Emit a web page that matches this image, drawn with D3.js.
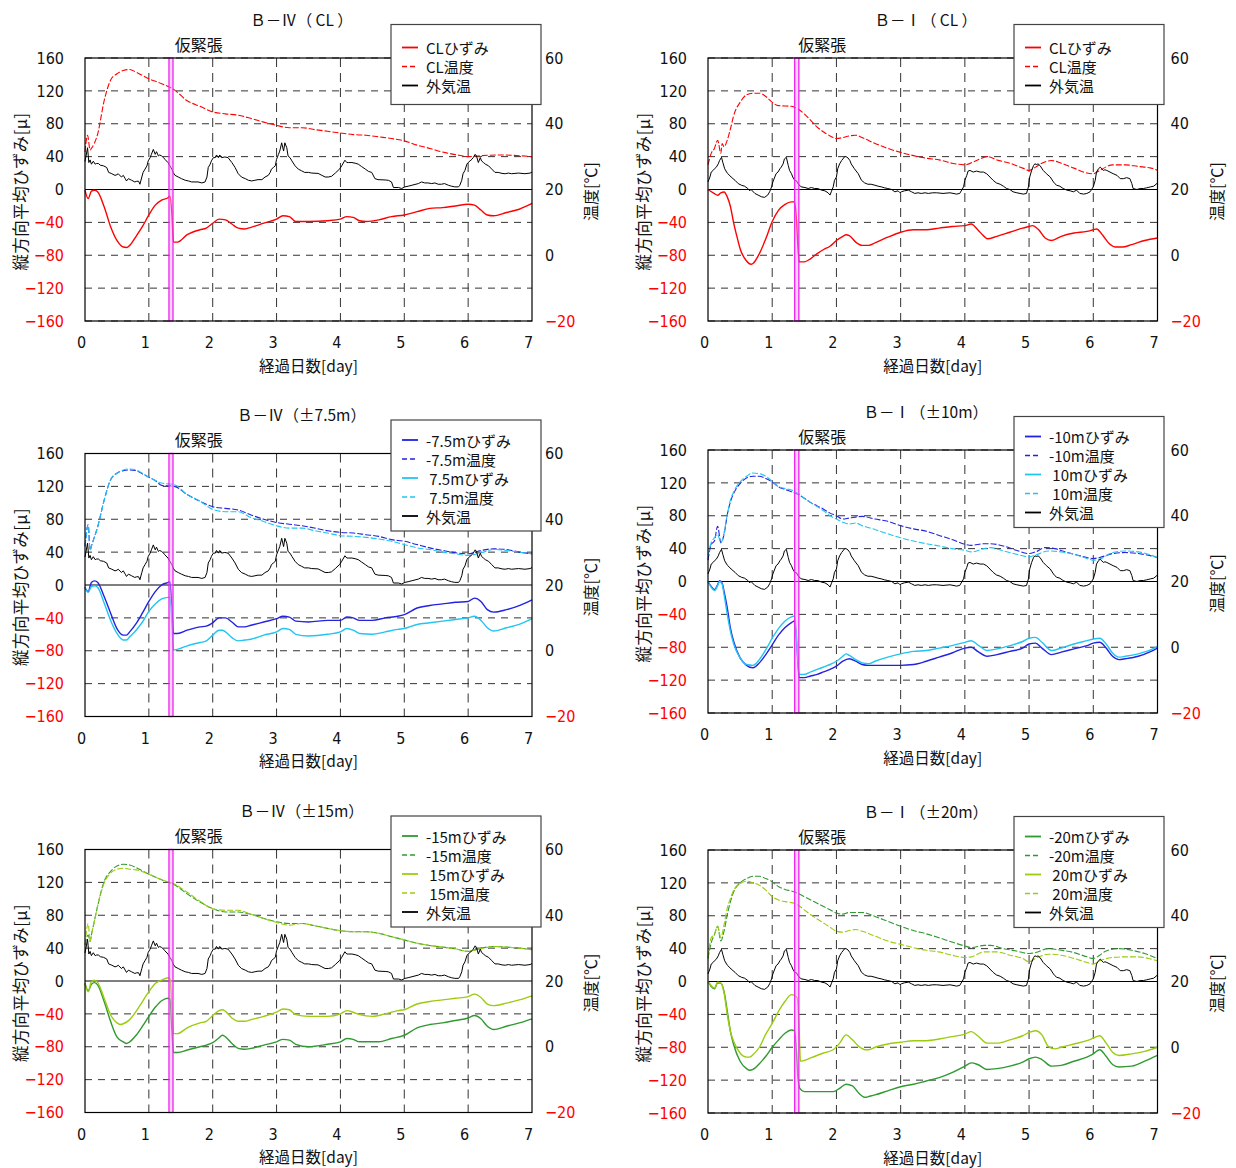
<!DOCTYPE html>
<html>
<head>
<meta charset="utf-8">
<script src="https://cdn.jsdelivr.net/npm/d3@7"></script>
<style>
  body { margin: 0; background: #fff; }
  svg { display: block; }
</style>
</head>
<body>
<svg id="chart" width="1236" height="1168"></svg>
<script>
// ---------- axis ticks ----------
const DAY_TICKS = [0, 1, 2, 3, 4, 5, 6, 7];
const STRAIN_TICKS = [-160, -120, -80, -40, 0, 40, 80, 120, 160];
const TEMP_TICKS = [-20, 0, 20, 40, 60];

// ---------- outdoor air temperature [°C] (day, value) ----------
const airTempB4 = [[0,28.5],[0.04,32.7],[0.06,28.2],[0.08,29.0],[0.10,27.7],[0.13,28.6],[0.16,27.7],[0.18,27.9],[0.21,27.9],[0.24,27.4],[0.29,27.2],[0.34,26.7],[0.37,25.2],[0.42,24.8],[0.47,24.3],[0.50,24.5],[0.52,24.8],[0.57,23.8],[0.60,24.3],[0.63,23.3],[0.65,22.6],[0.68,23.3],[0.73,22.8],[0.78,22.3],[0.81,22.5],[0.84,22.5],[0.86,21.6],[0.89,23.8],[0.91,25.2],[0.94,26.2],[0.97,27.2],[0.99,28.7],[1.02,29.7],[1.04,30.7],[1.07,32.2],[1.10,30.7],[1.12,31.5],[1.15,30.2],[1.17,30.5],[1.20,30.2],[1.23,29.7],[1.25,29.2],[1.30,28.2],[1.33,27.2],[1.36,26.2],[1.38,25.2],[1.41,24.3],[1.46,23.8],[1.51,23.3],[1.57,22.8],[1.62,22.6],[1.67,22.3],[1.77,22.3],[1.83,22.0],[1.88,22.3],[1.91,23.8],[1.93,26.7],[1.96,27.7],[1.98,28.7],[2.01,29.7],[2.04,29.7],[2.06,30.5],[2.09,29.7],[2.11,30.5],[2.14,29.7],[2.19,29.9],[2.24,29.7],[2.30,28.2],[2.35,26.7],[2.40,24.8],[2.45,23.8],[2.51,23.3],[2.56,22.8],[2.61,22.6],[2.66,22.8],[2.71,23.0],[2.77,23.0],[2.82,23.8],[2.87,24.3],[2.90,25.2],[2.92,26.2],[2.95,26.7],[2.98,27.2],[3.00,29.2],[3.03,30.7],[3.05,31.7],[3.08,34.2],[3.11,31.7],[3.13,34.2],[3.16,32.7],[3.18,30.2],[3.21,29.7],[3.24,28.7],[3.29,27.2],[3.34,26.2],[3.39,25.7],[3.44,25.2],[3.50,25.2],[3.55,25.0],[3.65,24.9],[3.71,24.3],[3.76,23.8],[3.81,23.8],[3.86,24.0],[3.92,25.0],[3.99,26.3],[4.02,27.2],[4.07,28.9],[4.10,28.2],[4.13,28.2],[4.18,28.2],[4.23,28.0],[4.28,27.7],[4.33,27.0],[4.39,26.2],[4.44,25.5],[4.49,25.2],[4.54,23.3],[4.59,23.0],[4.70,22.9],[4.75,22.8],[4.80,22.3],[4.83,20.6],[4.91,20.6],[4.96,20.3],[5.01,20.8],[5.06,21.0],[5.12,21.3],[5.22,21.8],[5.27,22.3],[5.32,22.0],[5.37,22.0],[5.43,21.8],[5.48,22.0],[5.53,21.6],[5.58,21.6],[5.63,21.8],[5.69,21.3],[5.74,21.0],[5.79,20.8],[5.85,20.8],[5.87,21.3],[5.90,22.8],[5.92,24.8],[5.95,25.8],[5.98,27.7],[6.00,28.2],[6.03,28.7],[6.06,29.2],[6.08,29.7],[6.11,30.7],[6.13,30.2],[6.16,28.2],[6.19,29.7],[6.21,28.7],[6.24,28.2],[6.27,27.7],[6.32,27.2],[6.37,26.2],[6.42,25.2],[6.47,25.2],[6.53,24.9],[6.58,24.8],[6.63,25.0],[6.68,24.8],[6.79,25.0],[6.89,24.8],[6.97,25.0],[7.0,25.3]];

const airTempB1 = [[0,22.3],[0.03,23.8],[0.05,25.3],[0.08,25.8],[0.10,26.3],[0.13,26.8],[0.16,27.8],[0.18,28.8],[0.21,29.8],[0.23,28.3],[0.26,26.3],[0.29,25.3],[0.31,24.8],[0.36,23.8],[0.42,22.8],[0.47,21.8],[0.52,21.3],[0.57,21.0],[0.62,20.3],[0.65,19.6],[0.67,20.0],[0.73,18.8],[0.78,18.3],[0.83,17.8],[0.88,17.6],[0.93,18.3],[0.96,19.3],[0.99,20.8],[1.01,22.3],[1.04,23.8],[1.06,24.8],[1.09,25.3],[1.12,26.3],[1.14,26.8],[1.17,27.8],[1.19,29.3],[1.22,29.8],[1.25,27.3],[1.27,25.8],[1.30,24.8],[1.32,23.8],[1.35,22.8],[1.38,22.6],[1.40,21.8],[1.45,20.8],[1.51,20.6],[1.56,20.3],[1.61,20.6],[1.66,20.3],[1.71,20.3],[1.77,19.8],[1.82,19.6],[1.87,19.0],[1.90,18.3],[1.92,19.3],[1.95,20.8],[1.97,22.8],[2.00,23.8],[2.02,26.3],[2.05,27.8],[2.08,28.8],[2.13,30.0],[2.15,30.0],[2.18,29.6],[2.21,28.8],[2.23,27.8],[2.28,26.3],[2.34,24.8],[2.39,22.8],[2.44,22.0],[2.49,21.6],[2.54,21.6],[2.60,21.3],[2.65,21.0],[2.70,20.8],[2.75,20.5],[2.80,20.3],[2.86,20.0],[2.91,19.3],[2.96,19.6],[2.99,19.0],[3.01,19.3],[3.06,19.6],[3.12,19.8],[3.17,19.3],[3.22,18.8],[3.27,19.0],[3.32,18.8],[3.38,19.0],[3.43,18.8],[3.50,19.0],[3.56,19.0],[3.66,18.8],[3.77,19.0],[3.87,18.6],[3.92,18.8],[3.98,20.8],[4.00,22.8],[4.03,24.3],[4.05,25.6],[4.08,25.8],[4.13,25.3],[4.18,25.6],[4.24,25.3],[4.29,25.3],[4.34,24.8],[4.39,23.8],[4.44,22.8],[4.49,22.0],[4.55,21.6],[4.60,21.0],[4.65,20.3],[4.70,20.0],[4.75,19.3],[4.81,19.0],[4.86,18.8],[4.91,18.6],[4.96,18.8],[4.99,20.8],[5.01,23.8],[5.04,25.8],[5.07,27.3],[5.09,27.8],[5.12,27.6],[5.14,27.8],[5.17,27.3],[5.22,25.8],[5.27,24.8],[5.33,23.8],[5.38,22.3],[5.40,21.8],[5.43,21.3],[5.48,21.0],[5.53,20.3],[5.59,19.8],[5.64,19.6],[5.69,19.3],[5.74,19.8],[5.79,18.8],[5.85,18.6],[5.90,18.8],[5.95,19.3],[6.00,20.8],[6.03,22.8],[6.05,25.3],[6.08,26.3],[6.11,26.8],[6.13,26.3],[6.16,25.8],[6.18,26.0],[6.21,25.8],[6.26,25.3],[6.31,24.8],[6.37,24.3],[6.42,23.3],[6.47,23.3],[6.52,23.6],[6.57,23.3],[6.60,21.8],[6.62,20.3],[6.68,20.0],[6.73,20.3],[6.78,20.3],[6.83,20.5],[6.89,20.8],[6.94,21.0],[6.99,21.8],[7.0,21.6]];

// ---------- B-IV CL ----------
const b4ClStrain = [[0,-1],[0.05,-11],[0.1,-2],[0.15,-1],[0.2,-3],[0.3,-21],[0.4,-45],[0.5,-62],[0.6,-70],[0.65,-70.5],[0.7,-68],[0.8,-57],[0.9,-45],[1.0,-31],[1.1,-19],[1.2,-13],[1.3,-10],[1.33,-8],[1.36,-29],[1.385,-64],[1.45,-64],[1.6,-55],[1.8,-49],[1.9,-47],[2.0,-41],[2.1,-36],[2.2,-37],[2.3,-42],[2.4,-47],[2.5,-48],[2.6,-46],[2.8,-41],[3.0,-36],[3.1,-32],[3.2,-33],[3.3,-39],[3.5,-39],[3.8,-38],[4.0,-36],[4.1,-33],[4.2,-34],[4.3,-38],[4.4,-39],[4.6,-37],[4.8,-33],[5.0,-31],[5.2,-27],[5.4,-23],[5.6,-22],[5.8,-20],[6.0,-18],[6.1,-19],[6.2,-25],[6.3,-31],[6.4,-32],[6.6,-28],[6.8,-24],[7.0,-17]];
const b4ClTemp = [[0,31.4],[0.04,36.5],[0.08,32],[0.1,32.5],[0.2,37],[0.3,47],[0.4,53.2],[0.5,55.2],[0.6,56.2],[0.7,56.5],[0.8,55.7],[1.0,53.7],[1.2,52.2],[1.4,50.3],[1.6,47],[1.8,45.3],[2.0,43.6],[2.2,43],[2.4,42.6],[2.6,41.6],[2.8,40.5],[3.0,39.5],[3.2,38.8],[3.4,38.8],[3.6,38.2],[3.8,37.7],[4.0,37.2],[4.2,36.7],[4.4,36.5],[4.6,36],[4.8,35.5],[5.0,34.8],[5.2,33.5],[5.4,32.5],[5.6,31.4],[5.8,30.6],[6.0,30],[6.2,30.3],[6.5,30.5],[7.0,30]];

// ---------- B-I CL ----------
const b1ClStrain = [[0,0],[0.1,-5],[0.15,-7],[0.2,-4],[0.25,-3],[0.3,-9],[0.35,-21],[0.4,-41],[0.45,-57],[0.5,-72],[0.6,-87],[0.67,-91],[0.7,-90],[0.8,-78],[0.9,-60],[1.0,-39],[1.1,-25],[1.2,-18],[1.3,-15],[1.35,-15],[1.38,-40],[1.4,-70],[1.42,-88],[1.5,-88],[1.6,-84],[1.7,-78],[1.8,-73],[1.9,-69],[2.0,-62],[2.1,-57],[2.15,-55],[2.2,-56],[2.3,-64],[2.4,-68],[2.5,-68],[2.6,-65],[2.8,-58],[3.0,-52],[3.2,-49],[3.4,-49],[3.6,-47],[3.8,-45],[4.0,-44],[4.1,-42],[4.2,-49],[4.3,-57],[4.35,-60],[4.5,-57],[4.7,-52],[4.9,-47],[5.0,-45],[5.05,-44],[5.15,-49],[5.25,-59],[5.35,-62],[5.5,-57],[5.7,-53],[5.9,-51],[6.0,-49],[6.05,-48],[6.15,-56],[6.25,-66],[6.35,-70],[6.45,-70],[6.6,-67],[6.8,-62],[7.0,-59]];
const b1ClTemp = [[0,27.5],[0.05,31],[0.1,32.5],[0.15,35],[0.2,31],[0.22,34],[0.25,33],[0.3,35],[0.35,38.5],[0.4,42.5],[0.5,46.5],[0.6,48.8],[0.7,49.3],[0.8,49.3],[0.9,48.3],[1.0,46.5],[1.1,45.5],[1.3,45.3],[1.4,44.5],[1.5,43],[1.6,41],[1.7,39],[1.8,37.5],[1.9,36.3],[2.0,35.5],[2.1,35.8],[2.2,36.3],[2.3,36.5],[2.4,35.8],[2.6,34],[2.8,32.5],[3.0,31.3],[3.2,30.3],[3.4,29.5],[3.6,29],[3.8,28],[4.0,27.5],[4.2,29],[4.35,30],[4.5,29],[4.7,28],[4.9,26.5],[5.0,25.8],[5.1,26.8],[5.2,28],[5.35,28.8],[5.5,28],[5.7,26.5],[5.9,25],[6.0,24.8],[6.1,25.8],[6.3,27.5],[6.5,27.5],[6.7,27],[6.9,26.5],[7.0,25.8]];

// ---------- B-IV ±7.5m ----------
const b4M75Strain = [[0,-3],[0.05,-8],[0.1,3],[0.15,5],[0.2,3],[0.3,-14],[0.4,-34],[0.5,-53],[0.6,-61],[0.65,-61],[0.7,-57],[0.8,-47],[0.9,-34],[1.0,-20],[1.1,-8],[1.2,0],[1.3,3],[1.33,4],[1.36,-26],[1.385,-59],[1.45,-59],[1.6,-55],[1.8,-51],[1.9,-50],[2.0,-46],[2.1,-40],[2.2,-40],[2.3,-45],[2.4,-51],[2.5,-51],[2.6,-49],[2.8,-45],[3.0,-41],[3.1,-38],[3.2,-39],[3.3,-44],[3.5,-45],[3.8,-43],[4.0,-43],[4.1,-39],[4.2,-40],[4.3,-43],[4.5,-43],[4.7,-40],[4.9,-38],[5.0,-36],[5.2,-28],[5.4,-25],[5.6,-23],[5.8,-21],[6.0,-20],[6.1,-16],[6.2,-20],[6.3,-30],[6.4,-33],[6.6,-30],[6.8,-25],[7.0,-18]];
const b4M75Temp = [[0,31.8],[0.05,38.3],[0.08,30.5],[0.1,31.8],[0.2,37.8],[0.3,45.8],[0.4,52],[0.5,54],[0.6,54.8],[0.7,55],[0.8,54.8],[0.9,53.8],[1.0,52.8],[1.1,51.8],[1.2,50.3],[1.4,50],[1.6,47.5],[1.8,45.5],[2.0,43.8],[2.2,43.3],[2.4,42.8],[2.6,41.3],[2.8,40],[3.0,39],[3.2,38.5],[3.4,38],[3.6,37.3],[3.8,36.5],[4.0,36],[4.2,35.8],[4.4,35.3],[4.6,34.8],[4.8,33.8],[5.0,33.3],[5.2,32.3],[5.4,31.3],[5.6,30.5],[5.8,29.8],[6.0,29.5],[6.2,30.5],[6.4,31],[6.6,30.8],[6.8,30],[7.0,29.5]];
const b4P75Strain = [[0,-3],[0.05,-9],[0.1,-2],[0.15,-1],[0.2,-3],[0.3,-22],[0.4,-43],[0.5,-59],[0.6,-67],[0.65,-67],[0.7,-63],[0.8,-55],[0.9,-45],[1.0,-32],[1.1,-23],[1.2,-17],[1.3,-15],[1.33,-15],[1.36,-45],[1.385,-79],[1.5,-77],[1.6,-74],[1.8,-70],[1.9,-68],[2.0,-61],[2.1,-55],[2.15,-55],[2.2,-57],[2.3,-64],[2.4,-68],[2.5,-67],[2.6,-66],[2.8,-61],[3.0,-57],[3.1,-53],[3.2,-54],[3.3,-60],[3.5,-62],[3.8,-60],[4.0,-57],[4.1,-53],[4.2,-55],[4.3,-59],[4.5,-60],[4.7,-57],[4.9,-54],[5.0,-53],[5.2,-48],[5.4,-46],[5.6,-44],[5.8,-42],[6.0,-40],[6.1,-38],[6.2,-43],[6.3,-52],[6.4,-56],[6.6,-52],[6.8,-48],[7.0,-41]];
const b4P75Temp = [[0,31.8],[0.05,38.3],[0.08,30.5],[0.1,31.8],[0.2,37.8],[0.3,45.8],[0.4,52],[0.5,54],[0.6,55],[0.7,55.3],[0.8,55],[0.9,54],[1.0,52.8],[1.1,51.8],[1.2,51],[1.4,50.5],[1.6,47.5],[1.8,45.5],[2.0,43],[2.2,42.3],[2.4,42.3],[2.6,40.5],[2.8,39.3],[3.0,38],[3.2,37.3],[3.4,37.3],[3.6,36.5],[3.8,35.8],[4.0,35],[4.2,34.8],[4.4,34.5],[4.6,34],[4.8,33.3],[5.0,32.3],[5.2,31.3],[5.4,30.8],[5.6,30],[5.8,29.5],[6.0,29],[6.2,29.8],[6.4,30.8],[6.6,30.5],[6.8,30],[7.0,29.5]];

// ---------- B-I ±10m ----------
const b1M10Strain = [[0,0],[0.05,-6],[0.1,-10],[0.15,-4],[0.18,1],[0.22,-2],[0.25,-12],[0.3,-32],[0.35,-57],[0.4,-73],[0.5,-93],[0.6,-102],[0.7,-105],[0.8,-99],[0.9,-89],[1.0,-77],[1.1,-65],[1.2,-56],[1.3,-50],[1.35,-48],[1.38,-75],[1.42,-117],[1.5,-117],[1.6,-115],[1.7,-113],[1.8,-110],[1.9,-107],[2.0,-103],[2.1,-97],[2.2,-94],[2.3,-97],[2.4,-101],[2.5,-102],[2.7,-102],[3.0,-102],[3.2,-101],[3.4,-97],[3.6,-92],[3.8,-87],[4.0,-81],[4.1,-80],[4.2,-85],[4.35,-91],[4.5,-89],[4.7,-85],[4.9,-81],[5.0,-76],[5.1,-75],[5.2,-81],[5.35,-89],[5.5,-86],[5.7,-82],[5.9,-78],[6.0,-75],[6.1,-74],[6.2,-81],[6.3,-91],[6.4,-95],[6.5,-94],[6.7,-91],[6.9,-85],[7.0,-81]];
const b1M10Temp = [[0,26.5],[0.05,31.3],[0.1,32.3],[0.15,36.8],[0.2,31.8],[0.25,34.3],[0.3,40.3],[0.35,44.3],[0.4,46.8],[0.5,49.8],[0.6,51.5],[0.7,52],[0.8,52],[0.9,51.3],[1.0,50.3],[1.1,48.8],[1.2,48],[1.3,47.3],[1.4,46.5],[1.5,45.3],[1.6,44],[1.7,43],[1.8,42],[1.9,40.8],[2.0,40],[2.1,39],[2.2,39.3],[2.4,39.8],[2.6,39],[2.8,38.3],[3.0,37],[3.2,36],[3.4,35.3],[3.6,34],[3.8,32.8],[4.0,31.3],[4.1,31],[4.3,31.5],[4.4,31.5],[4.6,30.8],[4.8,29.5],[5.0,28.5],[5.1,29],[5.25,30.3],[5.4,30],[5.6,28.8],[5.8,27.8],[6.0,27],[6.1,27.3],[6.3,28.5],[6.5,28.8],[6.7,28.5],[6.9,27.8],[7.0,27.3]];
const b1P10Strain = [[0,0],[0.05,-7],[0.1,-11],[0.15,-5],[0.18,0],[0.22,-3],[0.25,-16],[0.3,-40],[0.35,-61],[0.4,-76],[0.5,-93],[0.6,-101],[0.7,-102],[0.8,-95],[0.9,-83],[1.0,-69],[1.1,-57],[1.2,-48],[1.3,-43],[1.35,-42],[1.38,-70],[1.42,-113],[1.5,-113],[1.6,-110],[1.7,-107],[1.8,-104],[1.9,-101],[2.0,-97],[2.1,-91],[2.15,-88],[2.2,-90],[2.3,-95],[2.4,-99],[2.5,-100],[2.6,-97],[2.8,-92],[3.0,-88],[3.2,-85],[3.4,-84],[3.6,-81],[3.8,-78],[4.0,-74],[4.1,-72],[4.2,-77],[4.35,-84],[4.5,-82],[4.7,-78],[4.9,-73],[5.0,-69],[5.1,-68],[5.2,-74],[5.35,-84],[5.5,-81],[5.7,-76],[5.9,-72],[6.0,-70],[6.1,-69],[6.2,-76],[6.3,-87],[6.4,-92],[6.5,-91],[6.7,-88],[6.9,-83],[7.0,-79]];
const b1P10Temp = [[0,28],[0.05,31.8],[0.1,33.3],[0.15,34.3],[0.2,31.8],[0.25,34.8],[0.3,40.3],[0.35,44.8],[0.4,47.3],[0.5,50.3],[0.6,52],[0.7,53],[0.8,52.8],[0.9,52],[1.0,50.5],[1.1,48.8],[1.2,48.3],[1.3,47.8],[1.4,46.8],[1.5,45.3],[1.6,44],[1.7,42.8],[1.8,41.5],[1.9,40],[2.0,39],[2.1,38],[2.2,37.5],[2.3,37.8],[2.4,37],[2.6,35.8],[2.8,34.5],[3.0,33.3],[3.2,32.3],[3.4,31.5],[3.6,30.8],[3.8,30],[4.0,29.5],[4.1,29],[4.3,30],[4.4,30.3],[4.6,29.3],[4.8,28.3],[5.0,27.5],[5.1,28],[5.3,29.3],[5.5,29],[5.7,28.3],[5.9,27],[6.0,26.5],[6.1,26.8],[6.3,28.8],[6.5,29.3],[6.7,29],[6.9,28],[7.0,27.3]];

// ---------- B-IV ±15m ----------
const b4M15Strain = [[0,-3],[0.05,-12],[0.1,-4],[0.15,-2],[0.2,-5],[0.3,-25],[0.4,-49],[0.5,-68],[0.6,-74],[0.65,-76],[0.7,-74],[0.8,-66],[0.9,-55],[1.0,-43],[1.1,-32],[1.2,-24],[1.3,-21],[1.33,-22],[1.36,-60],[1.385,-87],[1.45,-87],[1.6,-84],[1.8,-80],[1.9,-78],[2.0,-75],[2.1,-69],[2.15,-66],[2.2,-68],[2.3,-76],[2.4,-82],[2.5,-83],[2.6,-82],[2.8,-78],[3.0,-74],[3.1,-71],[3.2,-72],[3.3,-77],[3.5,-80],[3.8,-77],[4.0,-74],[4.1,-70],[4.2,-71],[4.3,-74],[4.6,-74],[4.8,-70],[5.0,-66],[5.2,-57],[5.4,-53],[5.6,-51],[5.8,-48],[6.0,-45],[6.1,-42],[6.2,-46],[6.3,-55],[6.4,-59],[6.6,-55],[6.8,-51],[7.0,-46]];
const b4M15Temp = [[0,31],[0.05,34],[0.08,32],[0.1,34],[0.15,38.5],[0.2,43],[0.3,50.3],[0.4,53.3],[0.5,55],[0.6,55.5],[0.7,55.3],[0.8,54.5],[1.0,52.5],[1.2,50.8],[1.4,49.3],[1.6,46.5],[1.8,44],[2.0,42],[2.2,41],[2.4,41],[2.6,40.3],[2.8,39],[3.0,38],[3.2,37.5],[3.4,37.5],[3.6,36.8],[3.8,36],[4.0,35.3],[4.2,35],[4.4,35],[4.6,34.5],[4.8,33.5],[5.0,32.5],[5.2,31.5],[5.4,30.8],[5.6,30.3],[5.8,29.8],[6.0,29],[6.2,30],[6.4,30.5],[6.6,30.3],[6.8,30],[7.0,29.5]];
const b4P15Strain = [[0,-3],[0.05,-13],[0.1,-1],[0.15,1],[0.2,-2],[0.3,-21],[0.4,-41],[0.5,-51],[0.55,-53],[0.6,-52],[0.7,-47],[0.8,-37],[0.9,-25],[1.0,-13],[1.1,-3],[1.2,1],[1.3,4],[1.33,3],[1.36,-30],[1.385,-64],[1.45,-64],[1.6,-57],[1.8,-51],[1.9,-49],[2.0,-42],[2.1,-36],[2.15,-35],[2.2,-37],[2.3,-45],[2.4,-49],[2.5,-49],[2.6,-47],[2.8,-43],[3.0,-38],[3.1,-34],[3.2,-35],[3.3,-41],[3.5,-43],[3.8,-43],[4.0,-40],[4.1,-36],[4.2,-38],[4.3,-41],[4.5,-43],[4.7,-40],[4.9,-36],[5.0,-35],[5.2,-28],[5.4,-25],[5.6,-23],[5.8,-21],[6.0,-19],[6.1,-16],[6.2,-20],[6.3,-28],[6.4,-30],[6.6,-27],[6.8,-23],[7.0,-18]];
const b4P15Temp = [[0,31],[0.05,37.5],[0.08,32],[0.1,34],[0.15,38.5],[0.2,43],[0.3,49.8],[0.4,52.8],[0.5,54],[0.6,54.3],[0.7,54],[0.8,53.8],[1.0,52.5],[1.2,50.8],[1.4,49.5],[1.6,47],[1.8,44.3],[2.0,42],[2.2,41.5],[2.4,41.5],[2.6,40.3],[2.8,39],[3.0,37.8],[3.2,37],[3.4,37.5],[3.6,36.8],[3.8,36],[4.0,35.3],[4.2,35],[4.4,35],[4.6,34.5],[4.8,33.5],[5.0,32.5],[5.2,31.5],[5.4,30.8],[5.6,30.3],[5.8,29.8],[6.0,29],[6.2,29.8],[6.4,30.5],[6.6,30.3],[6.8,30],[7.0,29.5]];

// ---------- B-I ±20m ----------
const b1M20Strain = [[0,0],[0.05,-6],[0.1,-9],[0.15,-2],[0.2,-2],[0.25,-12],[0.3,-36],[0.35,-61],[0.4,-77],[0.5,-97],[0.6,-106],[0.65,-108],[0.7,-107],[0.8,-100],[0.9,-91],[1.0,-80],[1.1,-71],[1.2,-63],[1.3,-59],[1.35,-60],[1.38,-90],[1.4,-117],[1.43,-130],[1.5,-134],[1.6,-134],[1.8,-134],[1.95,-134],[2.05,-130],[2.15,-125],[2.25,-127],[2.35,-136],[2.45,-141],[2.5,-140],[2.6,-138],[2.8,-133],[3.0,-128],[3.2,-125],[3.4,-121],[3.6,-117],[3.8,-111],[4.0,-103],[4.1,-99],[4.2,-101],[4.35,-107],[4.5,-106],[4.7,-103],[4.9,-98],[5.0,-94],[5.1,-92],[5.2,-95],[5.35,-103],[5.5,-102],[5.7,-97],[5.9,-92],[6.0,-88],[6.1,-83],[6.2,-91],[6.3,-101],[6.4,-104],[6.6,-103],[6.8,-97],[7.0,-90]];
const b1M20Temp = [[0,27],[0.05,31.8],[0.1,34.3],[0.15,36.8],[0.2,32.3],[0.25,35.3],[0.3,40.3],[0.35,44.3],[0.4,47.3],[0.5,50],[0.6,51.3],[0.7,52],[0.8,52],[0.9,51.3],[1.0,50.3],[1.1,48.8],[1.2,48],[1.3,47.5],[1.4,46.8],[1.5,45.8],[1.6,44.8],[1.7,43.8],[1.8,42.8],[1.9,41.8],[2.0,40.8],[2.1,40.5],[2.2,41],[2.4,41],[2.6,39.8],[2.8,38.3],[3.0,36.8],[3.2,35.5],[3.4,34.5],[3.6,33.3],[3.8,32],[4.0,30.8],[4.1,30.3],[4.3,31],[4.4,31],[4.6,30],[4.8,29.3],[5.0,28.5],[5.1,28.8],[5.3,30],[5.5,29.5],[5.7,28.8],[5.9,27.5],[6.0,27],[6.1,28],[6.2,29.3],[6.4,30],[6.6,29.5],[6.8,28.5],[7.0,27]];
const b1P20Strain = [[0,0],[0.05,-5],[0.1,-8],[0.15,-1],[0.2,-2],[0.25,-14],[0.3,-40],[0.35,-61],[0.4,-73],[0.5,-87],[0.6,-92],[0.65,-92],[0.7,-89],[0.8,-80],[0.9,-64],[1.0,-51],[1.1,-36],[1.2,-24],[1.3,-16],[1.35,-17],[1.39,-20],[1.42,-60],[1.44,-97],[1.5,-96],[1.6,-93],[1.8,-87],[1.95,-83],[2.05,-75],[2.15,-65],[2.25,-71],[2.35,-79],[2.45,-83],[2.5,-83],[2.6,-80],[2.8,-76],[3.0,-74],[3.2,-72],[3.4,-72],[3.6,-70],[3.8,-67],[4.0,-64],[4.1,-61],[4.2,-66],[4.35,-75],[4.5,-75],[4.7,-71],[4.9,-66],[5.0,-62],[5.1,-60],[5.2,-65],[5.3,-79],[5.4,-82],[5.5,-80],[5.7,-76],[5.9,-72],[6.0,-69],[6.1,-66],[6.2,-75],[6.3,-86],[6.4,-90],[6.6,-88],[6.8,-85],[7.0,-80]];
const b1P20Temp = [[0,27.5],[0.05,33.3],[0.1,34.3],[0.15,36.8],[0.2,33.3],[0.25,37.3],[0.3,42.3],[0.35,45.3],[0.4,47.8],[0.5,49.8],[0.6,50.5],[0.7,50],[0.8,49.3],[0.9,47.8],[1.0,45.8],[1.1,44.8],[1.2,44.3],[1.3,44],[1.4,43.3],[1.5,41.8],[1.6,40.3],[1.7,39],[1.8,37.8],[1.9,36.5],[2.0,35.3],[2.1,35],[2.2,35.5],[2.3,35.8],[2.4,35.3],[2.6,33.8],[2.8,32.3],[3.0,31.3],[3.2,30.3],[3.4,29.5],[3.6,29],[3.8,28],[4.0,27.3],[4.1,27.5],[4.3,29],[4.5,29],[4.7,28],[4.9,27],[5.0,26],[5.1,27],[5.3,28.3],[5.5,28],[5.7,27],[5.9,25.8],[6.0,25.3],[6.1,26.3],[6.3,27.3],[6.5,27.5],[6.7,27.5],[6.9,26.8],[7.0,26.3]];

// ---------- temporary tensioning period [day] ----------
const tensionB4 = [1.315, 1.378];
const tensionB1 = [1.35, 1.415];

// ---------- titles / labels ----------
const panelTitles = ["Ｂ－Ⅳ（ CL ）", "Ｂ－Ⅰ（ CL ）", "Ｂ－Ⅳ（±7.5m）", "Ｂ－Ⅰ（±10m）", "Ｂ－Ⅳ（±15m）", "Ｂ－Ⅰ（±20m）"];
const tensionLabel = "仮緊張";
const airLabel = "外気温";
const xTitle = "経過日数[day]";
const yLeftTitle = "縦方向平均ひずみ[μ]";
const yRightTitle = "温度[℃]";

// ---------- colours ----------
const RED = "#ff0000", BLUE = "#2222e0", SKY = "#22c4f2", GREEN = "#2f9a2f", LIME = "#9ccc10";

// ---------- panel geometry ----------
const boxes = [
  { l: 85, r: 532, t: 58, b: 321 },
  { l: 708, r: 1157.5, t: 58, b: 321 },
  { l: 85, r: 532, t: 453.5, b: 716.5 },
  { l: 708, r: 1157.5, t: 450, b: 713 },
  { l: 85, r: 532, t: 849.5, b: 1112.5 },
  { l: 708, r: 1157.5, t: 850, b: 1113 }
];

const panels = [
  { title: panelTitles[0], box: boxes[0], band: tensionB4, air: airTempB4, series: [
    { label: "CLひずみ", kind: "strain", color: RED, data: b4ClStrain },
    { label: "CL温度", kind: "temp", color: RED, data: b4ClTemp } ] },
  { title: panelTitles[1], box: boxes[1], band: tensionB1, air: airTempB1, series: [
    { label: "CLひずみ", kind: "strain", color: RED, data: b1ClStrain },
    { label: "CL温度", kind: "temp", color: RED, data: b1ClTemp } ] },
  { title: panelTitles[2], box: boxes[2], band: tensionB4, air: airTempB4, series: [
    { label: "-7.5mひずみ", kind: "strain", color: BLUE, data: b4M75Strain },
    { label: "-7.5m温度", kind: "temp", color: BLUE, data: b4M75Temp },
    { label: " 7.5mひずみ", kind: "strain", color: SKY, data: b4P75Strain },
    { label: " 7.5m温度", kind: "temp", color: SKY, data: b4P75Temp } ] },
  { title: panelTitles[3], box: boxes[3], band: tensionB1, air: airTempB1, series: [
    { label: "-10mひずみ", kind: "strain", color: BLUE, data: b1M10Strain },
    { label: "-10m温度", kind: "temp", color: BLUE, data: b1M10Temp },
    { label: " 10mひずみ", kind: "strain", color: SKY, data: b1P10Strain },
    { label: " 10m温度", kind: "temp", color: SKY, data: b1P10Temp } ] },
  { title: panelTitles[4], box: boxes[4], band: tensionB4, air: airTempB4, series: [
    { label: "-15mひずみ", kind: "strain", color: GREEN, data: b4M15Strain },
    { label: "-15m温度", kind: "temp", color: GREEN, data: b4M15Temp },
    { label: " 15mひずみ", kind: "strain", color: LIME, data: b4P15Strain },
    { label: " 15m温度", kind: "temp", color: LIME, data: b4P15Temp } ] },
  { title: panelTitles[5], box: boxes[5], band: tensionB1, air: airTempB1, series: [
    { label: "-20mひずみ", kind: "strain", color: GREEN, data: b1M20Strain },
    { label: "-20m温度", kind: "temp", color: GREEN, data: b1M20Temp },
    { label: " 20mひずみ", kind: "strain", color: LIME, data: b1P20Strain },
    { label: " 20m温度", kind: "temp", color: LIME, data: b1P20Temp } ] }
];

const FONT_JP = '"Noto Sans CJK JP","Noto Sans",sans-serif';
const FONT_NUM = '"Liberation Sans Narrow","DejaVu Sans Condensed","Liberation Sans",sans-serif';

const svg = d3.select("#chart");

panels.forEach(p => {
  const B = p.box;
  const x = d3.scaleLinear().domain([0, 7]).range([B.l, B.r]);
  const yS = d3.scaleLinear().domain([-160, 160]).range([B.b, B.t]);
  const yT = d3.scaleLinear().domain([-20, 60]).range([B.b, B.t]);
  const g = svg.append("g");

  // dashed grid
  g.append("g").selectAll("line").data(STRAIN_TICKS.filter(v => v !== 0)).join("line")
    .attr("x1", B.l).attr("x2", B.r).attr("y1", d => yS(d)).attr("y2", d => yS(d))
    .attr("stroke", "#333").attr("stroke-width", 1).attr("stroke-dasharray", "7,6");
  g.append("g").selectAll("line").data(DAY_TICKS.filter(v => v > 0 && v < 7)).join("line")
    .attr("x1", d => x(d)).attr("x2", d => x(d)).attr("y1", B.t).attr("y2", B.b)
    .attr("stroke", "#333").attr("stroke-width", 1).attr("stroke-dasharray", "9,6");
  // zero strain line
  g.append("line").attr("x1", B.l).attr("x2", B.r).attr("y1", yS(0)).attr("y2", yS(0))
    .attr("stroke", "#000").attr("stroke-width", 1.2);

  const lineS = d3.line().x(d => x(d[0])).y(d => yS(d[1])).curve(d3.curveMonotoneX);
  const lineT = d3.line().x(d => x(d[0])).y(d => yT(d[1])).curve(d3.curveMonotoneX);
  const lineAir = d3.line().x(d => x(d[0])).y(d => yT(d[1]));

  // concrete temperatures (dashed, right axis)
  p.series.filter(s => s.kind === "temp").forEach(s => {
    g.append("path").datum(s.data).attr("d", lineT).attr("fill", "none")
      .attr("stroke", s.color).attr("stroke-width", 1.1).attr("stroke-dasharray", "6,2");
  });
  // outdoor air temperature
  g.append("path").datum(p.air).attr("d", lineAir).attr("fill", "none")
    .attr("stroke", "#000").attr("stroke-width", 1);
  // strains (left axis)
  p.series.filter(s => s.kind === "strain").forEach(s => {
    g.append("path").datum(s.data).attr("d", lineS).attr("fill", "none")
      .attr("stroke", s.color).attr("stroke-width", 1.4);
  });

  // temporary tensioning band
  g.append("rect").attr("x", x(p.band[0])).attr("y", B.t)
    .attr("width", x(p.band[1]) - x(p.band[0])).attr("height", B.b - B.t)
    .attr("fill", "#ff9cff").attr("fill-opacity", 0.45)
    .attr("stroke", "#ee22ee").attr("stroke-width", 1.3);
  g.append("text").attr("x", x(1.78)).attr("y", B.t - 14.5)
    .attr("text-anchor", "middle").attr("dominant-baseline", "central")
    .attr("font-family", FONT_JP).attr("font-size", 16).attr("fill", "#111")
    .text(tensionLabel);

  // frame
  g.append("rect").attr("x", B.l).attr("y", B.t).attr("width", B.r - B.l).attr("height", B.b - B.t)
    .attr("fill", "none").attr("stroke", "#000").attr("stroke-width", 1.2);

  // axes
  const axL = g.append("g").attr("transform", `translate(${B.l},0)`)
    .call(d3.axisLeft(yS).tickValues(STRAIN_TICKS).tickFormat(d3.format("d")).tickSize(0).tickPadding(21));
  axL.select(".domain").remove();
  axL.selectAll("text").attr("font-family", FONT_NUM).attr("font-size", 16)
    .attr("fill", d => d < 0 ? RED : "#111");

  const axR = g.append("g").attr("transform", `translate(${B.r},0)`)
    .call(d3.axisRight(yT).tickValues(TEMP_TICKS).tickFormat(d3.format("d")).tickSize(0).tickPadding(13));
  axR.select(".domain").remove();
  axR.selectAll("text").attr("font-family", FONT_NUM).attr("font-size", 16)
    .attr("fill", d => d < 0 ? RED : "#111");

  const axB = g.append("g").attr("transform", `translate(0,${B.b})`)
    .call(d3.axisBottom(x).tickValues(DAY_TICKS).tickFormat(d3.format("d")).tickSize(0).tickPadding(16));
  axB.select(".domain").remove();
  axB.selectAll("text").attr("font-family", FONT_NUM).attr("font-size", 16)
    .attr("fill", "#111").attr("dx", -4);

  // axis titles
  const cx = (B.l + B.r) / 2, cy = (B.t + B.b) / 2;
  g.append("text").attr("x", cx).attr("y", B.b + 43.5)
    .attr("text-anchor", "middle").attr("dominant-baseline", "central")
    .attr("font-family", FONT_JP).attr("font-size", 15.5).attr("fill", "#111").text(xTitle);
  g.append("text").attr("transform", `translate(${B.l - 65},${cy + 2}) rotate(-90)`)
    .attr("text-anchor", "middle").attr("dominant-baseline", "central")
    .attr("font-family", FONT_JP).attr("font-size", 16.5).attr("letter-spacing", 0.4)
    .attr("fill", "#111").text(yLeftTitle);
  g.append("text").attr("transform", `translate(${B.r + 58},${cy + 2}) rotate(-90)`)
    .attr("text-anchor", "middle").attr("dominant-baseline", "central")
    .attr("font-family", FONT_JP).attr("font-size", 16).attr("fill", "#111").text(yRightTitle);

  // title
  g.append("text").attr("x", cx - 7).attr("y", B.t - 39.5)
    .attr("text-anchor", "middle").attr("dominant-baseline", "central")
    .attr("font-family", FONT_JP).attr("font-size", 15.5).attr("fill", "#111")
    .style("white-space", "pre").text(p.title);

  // legend
  const entries = p.series.map(s => ({ label: s.label, color: s.color, dashed: s.kind === "temp" }))
    .concat([{ label: airLabel, color: "#000", dashed: false }]);
  const n = entries.length;
  const lg = g.append("g").attr("transform", `translate(${B.l + 306},${B.t - 33.5})`);
  lg.append("rect").attr("width", 150).attr("height", n === 3 ? 80 : 111)
    .attr("fill", "#fff").attr("stroke", "#444").attr("stroke-width", 1.2);
  const first = n === 3 ? 23 : 20;
  entries.forEach((e, i) => {
    const yy = first + i * 19;
    lg.append("line").attr("x1", 11).attr("x2", 27).attr("y1", yy).attr("y2", yy)
      .attr("stroke", e.color).attr("stroke-width", e.dashed ? 1.3 : 1.8)
      .attr("stroke-dasharray", e.dashed ? "5,3" : null);
    lg.append("text").attr("x", 35).attr("y", yy).attr("dominant-baseline", "central")
      .attr("font-family", FONT_JP).attr("font-size", 15).attr("fill", "#111")
      .style("white-space", "pre").text(e.label);
  });
});
</script>
</body>
</html>
